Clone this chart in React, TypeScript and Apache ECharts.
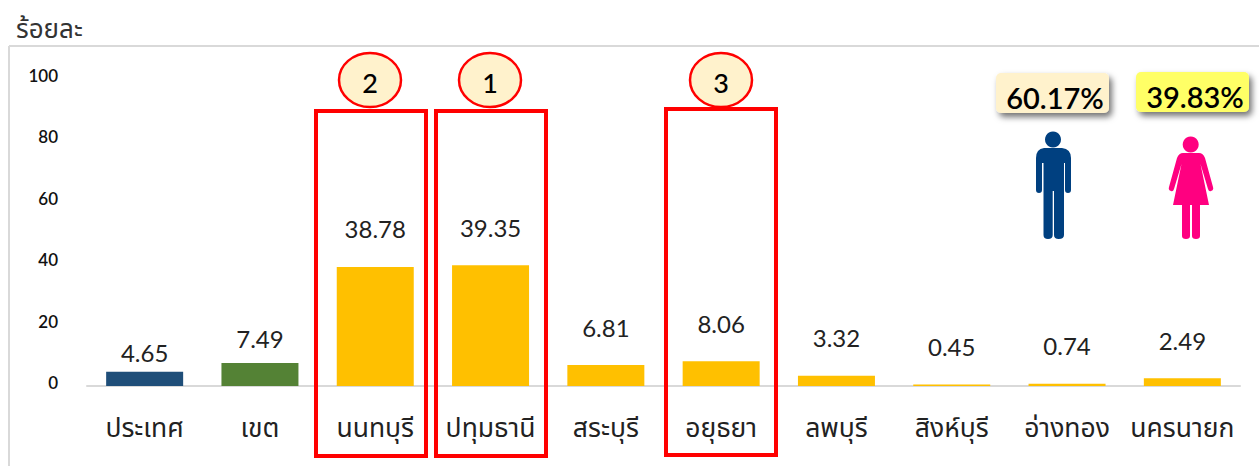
import React, { useEffect, useRef } from "react";
import * as echarts from "echarts";

const categories = ["ประเทศ", "เขต", "นนทบุรี", "ปทุมธานี", "สระบุรี", "อยุธยา", "ลพบุรี", "สิงห์บุรี", "อ่างทอง", "นครนายก"];
const values = [4.65, 7.49, 38.78, 39.35, 6.81, 8.06, 3.32, 0.45, 0.74, 2.49];
const barColors = ["#1F4E79", "#548235", "#FFC000", "#FFC000", "#FFC000", "#FFC000", "#FFC000", "#FFC000", "#FFC000", "#FFC000"];
const labelGaps = [7, 13, 26, 26, 26, 26, 26, 26, 26, 26];
const yTicks = [0, 20, 40, 60, 80, 100];
const unitTitle = "ร้อยละ";
const maleShare = "60.17%";
const femaleShare = "39.83%";
const ranks = ["2", "1", "3"];

const thaiFont = '"Noto Sans Thai","Noto Sans","Noto Looped Thai","Tahoma",sans-serif';
const numFont = 'Lato,"Open Sans",sans-serif';

const manPath = "M1044 148 H1062 Q1071 149 1071 158 V190 Q1071 193 1068 193 Q1065 193 1065 190 V163 H1064 V235 Q1064 239 1058.7 239 Q1054 239 1054 235 V191 H1052.7 V235 Q1052.7 239 1048 239 Q1043.5 239 1043.5 235 V163 H1042 V190 Q1042 193 1039 193 Q1036 193 1036 190 V158 Q1036 149 1044 148 Z";
const womanPath = "M1183 153 H1199 Q1203 153 1205 158 L1213 187 Q1214 190 1211 191 Q1209 192 1208 189 L1200.5 164 L1209 205 H1200 V236 Q1200 239 1196 239 Q1192 239 1192 236 V205 H1190 V236 Q1190 239 1186 239 Q1182 239 1182 236 V205 H1173 L1181.5 164 L1174 189 Q1173 192 1171 191 Q1168 190 1169 187 L1177 158 Q1179 153 1183 153 Z";
echarts.graphic.registerShape("manBody", echarts.graphic.extendPath(manPath as any, {}) as any);
echarts.graphic.registerShape("womanBody", echarts.graphic.extendPath(womanPath as any, {}) as any);

export default function App() {
  const ref = useRef<HTMLDivElement>(null);
  useEffect(() => {
    document.body.style.margin = "0";
    const chart = echarts.init(ref.current!, undefined, { renderer: "svg" });
    const frame = (x: number, y: number, w: number, h: number) => ({
      type: "rect", shape: { x, y, width: w, height: h }, z: 20,
      style: { fill: "transparent", stroke: "#FF0000", lineWidth: 4 },
    });
    const ellipse = (cx: number, cy: number, ry: number, t: string) => [
      { type: "ellipse", shape: { cx, cy, rx: 31, ry }, z: 20, style: { fill: "#FFF2CC", stroke: "#FF0000", lineWidth: 2.5 } },
      { type: "text", x: cx, y: cy + 2, z: 21, style: { text: t, font: `500 27px ${numFont}`, fill: "#000", align: "center", verticalAlign: "middle" } },
    ];
    const badge = (x: number, y: number, fill: string, t: string) => [
      { type: "rect", shape: { x, y, width: 113, height: 40, r: 5 }, z: 20, style: { fill, shadowBlur: 6, shadowColor: "rgba(0,0,0,0.55)", shadowOffsetX: 3, shadowOffsetY: 4 } },
      { type: "text", x: x + 59, y: y + 24, z: 21, style: { text: t, font: `600 29px ${numFont}`, fill: "#000", align: "center", verticalAlign: "middle" } },
    ];
    chart.setOption({
      animation: false,
      grid: { left: 87, right: 19, top: 79, height: 307, containLabel: false },
      xAxis: {
        type: "category", data: categories,
        axisLine: { lineStyle: { color: "#D9D9D9", width: 2 } },
        axisTick: { show: false },
        axisLabel: { interval: 0, margin: 29, fontSize: 26.5, color: "#222", fontFamily: thaiFont },
      },
      yAxis: {
        type: "value", min: yTicks[0], max: yTicks[yTicks.length - 1], interval: 20,
        axisLine: { show: false }, axisTick: { show: false }, splitLine: { show: false },
        axisLabel: { margin: 29, fontSize: 17, fontWeight: 600, color: "#111", fontFamily: numFont, verticalAlign: "bottom", lineHeight: 7 },
      },
      series: [{
        type: "bar", barWidth: 77,
        data: values.map((v, i) => ({
          value: v,
          itemStyle: { color: barColors[i] },
          label: { show: true, position: "top", distance: labelGaps[i], formatter: (p: any) => p.value.toFixed(2), fontSize: 24, color: "#222", fontFamily: numFont },
        })),
      }],
      graphic: [
        { type: "text", x: 16, y: 30, style: { text: unitTitle, font: `26px ${thaiFont}`, fill: "#333", verticalAlign: "middle" } },
        { type: "line", shape: { x1: 9, y1: 46, x2: 1259, y2: 46 }, style: { stroke: "#D9D9D9", lineWidth: 2 } },
        { type: "line", shape: { x1: 9, y1: 46, x2: 9, y2: 466 }, style: { stroke: "#D9D9D9", lineWidth: 2 } },
        frame(316, 111, 110, 345), frame(436, 111, 110, 345), frame(666, 109, 110, 346),
        ...ellipse(370, 80, 27, ranks[0]), ...ellipse(490, 80, 27, ranks[1]), ...ellipse(721, 80, 27, ranks[2]),
        ...badge(996, 73, "#FFF2CC", maleShare), ...badge(1136, 72, "#FFFF66", femaleShare),
        { type: "circle", shape: { cx: 1053, cy: 139.5, r: 8 }, style: { fill: "#004080" } },
        { type: "manBody", style: { fill: "#004080" } },
        { type: "circle", shape: { cx: 1190.7, cy: 144.5, r: 8 }, style: { fill: "#FF0080" } },
        { type: "womanBody", style: { fill: "#FF0080" } },
      ],
    });
    return () => chart.dispose();
  }, []);
  return <div ref={ref} style={{ position: "absolute", left: 0, top: 0, width: 1259, height: 466 }} />;
}
